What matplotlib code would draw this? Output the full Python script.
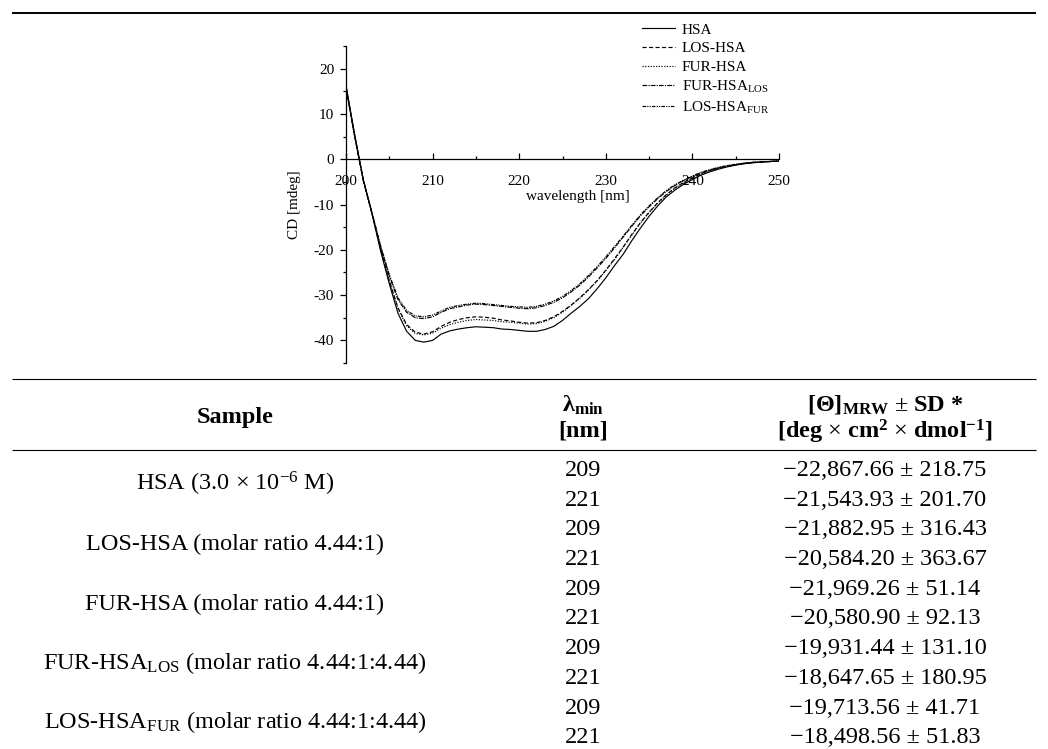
import matplotlib
matplotlib.use('Agg')
import matplotlib.pyplot as plt
from matplotlib.ticker import MultipleLocator
from matplotlib.lines import Line2D
import numpy as np

plt.rcParams['font.family'] = ['Liberation Serif', 'DejaVu Serif']
plt.rcParams['mathtext.fontset'] = 'custom'
plt.rcParams['mathtext.rm'] = 'Liberation Serif'
plt.rcParams['mathtext.it'] = 'Liberation Serif:italic'
plt.rcParams['mathtext.bf'] = 'Liberation Serif:bold'
plt.rcParams['axes.unicode_minus'] = False

W, H, DPI = 1048, 749, 100

# ── data: CD spectra (mdeg) at 1 nm steps ────────────────────────────────
wavelength = np.arange(200, 251)

cd_hsa = [16.3, 5.4, -4.5, -12.0, -20.3, -27.5, -34.0, -38.0, -40.0, -40.4,
          -40.0, -38.6, -37.9, -37.5, -37.2, -37.0, -37.1, -37.2, -37.5, -37.6,
          -37.8, -38.0, -38.0, -37.6, -36.9, -35.6, -34.0, -32.5, -30.8, -28.6,
          -26.2, -23.5, -21.0, -18.0, -15.2, -12.6, -10.3, -8.3, -6.8, -5.5,
          -4.5, -3.5, -2.8, -2.2, -1.7, -1.3, -1.0, -0.8, -0.6, -0.5, -0.4]

cd_los_hsa = [16.0, 5.2, -4.6, -12.0, -19.8, -26.8, -32.8, -36.5, -38.2, -38.6,
              -38.1, -36.9, -36.0, -35.4, -35.0, -34.8, -34.9, -35.1, -35.5, -35.7,
              -36.0, -36.2, -36.1, -35.6, -34.8, -33.6, -32.2, -30.6, -28.8, -26.8,
              -24.5, -22.0, -19.4, -16.6, -14.0, -11.7, -9.6, -7.8, -6.3, -5.1,
              -4.1, -3.2, -2.5, -2.0, -1.6, -1.2, -0.9, -0.7, -0.6, -0.5, -0.4]

cd_fur_hsa = [16.1, 5.3, -4.6, -12.0, -19.9, -27.0, -33.0, -36.8, -38.5, -38.8,
              -38.4, -37.3, -36.5, -36.0, -35.6, -35.4, -35.5, -35.6, -35.9, -36.0,
              -36.2, -36.4, -36.3, -35.8, -35.0, -33.8, -32.3, -30.7, -28.9, -26.9,
              -24.6, -22.2, -19.5, -16.8, -14.1, -11.8, -9.7, -7.9, -6.4, -5.2,
              -4.2, -3.3, -2.6, -2.0, -1.6, -1.2, -0.9, -0.7, -0.6, -0.5, -0.4]

cd_fur_hsa_los = [15.8, 5.0, -4.8, -11.9, -19.3, -25.8, -31.0, -33.8, -35.0, -35.2,
                  -34.8, -33.8, -33.0, -32.6, -32.2, -32.0, -32.1, -32.3, -32.5, -32.7,
                  -32.9, -33.0, -32.8, -32.3, -31.6, -30.6, -29.3, -27.8, -26.0, -24.0,
                  -21.9, -19.6, -17.2, -14.8, -12.5, -10.5, -8.7, -7.1, -5.8, -4.7,
                  -3.8, -3.0, -2.4, -1.9, -1.5, -1.2, -0.9, -0.7, -0.6, -0.5, -0.4]

cd_los_hsa_fur = [15.9, 5.1, -4.7, -11.8, -19.1, -25.5, -30.6, -33.4, -34.6, -34.8,
                  -34.4, -33.5, -32.7, -32.3, -32.0, -31.8, -31.9, -32.1, -32.3, -32.5,
                  -32.6, -32.7, -32.5, -32.0, -31.3, -30.3, -29.0, -27.5, -25.7, -23.7,
                  -21.6, -19.3, -17.0, -14.6, -12.3, -10.3, -8.5, -6.9, -5.6, -4.6,
                  -3.7, -2.9, -2.3, -1.8, -1.4, -1.1, -0.9, -0.7, -0.6, -0.5, -0.4]

series_labels = ['HSA', 'LOS-HSA', 'FUR-HSA',
                 r'FUR-HSA$_{\mathrm{LOS}}$', r'LOS-HSA$_{\mathrm{FUR}}$']

# ── data: table ──────────────────────────────────────────────────────────
sample_names = [r'HSA (3.0 $\times$ 10$^{-6}$ M)',
                'LOS-HSA (molar ratio 4.44:1)',
                'FUR-HSA (molar ratio 4.44:1)',
                r'FUR-HSA$_{\mathrm{LOS}}$ (molar ratio 4.44:1:4.44)',
                r'LOS-HSA$_{\mathrm{FUR}}$ (molar ratio 4.44:1:4.44)']
lambda_min = [209, 221]
theta_mean = [-22867.66, -21543.93, -21882.95, -20584.20, -21969.26,
              -20580.90, -19931.44, -18647.65, -19713.56, -18498.56]
theta_sd = [218.75, 201.70, 316.43, 363.67, 51.14,
            92.13, 131.10, 180.95, 41.71, 51.83]

# ── figure ───────────────────────────────────────────────────────────────
fig = plt.figure(figsize=(W / DPI, H / DPI), dpi=DPI)


def fx(x):
    return x / W


def fy(y):
    return 1 - y / H


def rule(y, lw):
    fig.add_artist(Line2D([fx(12), fx(1036)], [fy(y), fy(y)],
                          color='black', lw=lw, solid_capstyle='butt'))


TFS = 17.5  # table font size


def tx(x, y, s, fs=TFS, fw='normal', ha='center'):
    fig.text(fx(x), fy(y), s, fontsize=fs, fontweight=fw,
             ha=ha, va='baseline', color='black')


# axes: x 200->346px, 250->779px ; y 25->46px, -45->363px
ax = fig.add_axes([fx(346), fy(363), (779 - 346) / W, (363 - 46) / H])

styles = ['-', (0, (3.5, 2)), (0, (1, 1.3)), (0, (4, 1, 1, 1)),
          (0, (3, 1, 1, 1, 1, 1))]
series = [cd_hsa, cd_los_hsa, cd_fur_hsa, cd_fur_hsa_los, cd_los_hsa_fur]
for vals, ls, lab in zip(series, styles, series_labels):
    ax.plot(wavelength, vals, color='black', lw=0.85, ls=ls, label=lab)

ax.set_xlim(200, 250)
ax.set_ylim(-45, 25)
ax.spines['top'].set_visible(False)
ax.spines['right'].set_visible(False)
ax.spines['bottom'].set_position(('data', 0))
ax.spines['left'].set_linewidth(0.9)
ax.spines['bottom'].set_linewidth(0.9)

ax.xaxis.set_major_locator(MultipleLocator(10))
ax.xaxis.set_minor_locator(MultipleLocator(5))
ax.yaxis.set_major_locator(MultipleLocator(10))
ax.yaxis.set_minor_locator(MultipleLocator(5))
ax.set_yticks([-40, -30, -20, -10, 0, 10, 20])
ax.tick_params(axis='x', which='both', direction='in', pad=11.5, labelsize=11)
ax.tick_params(axis='x', which='major', length=4, width=0.9)
ax.tick_params(axis='x', which='minor', length=2.5, width=0.9)
ax.tick_params(axis='y', which='both', direction='out', pad=4.5, labelsize=11)
ax.tick_params(axis='y', which='major', length=4, width=0.9)
ax.tick_params(axis='y', which='minor', length=2.5, width=0.9)

ax.set_xlabel('wavelength [nm]', fontsize=11, va='center')
ax.xaxis.set_label_coords(0.536, 0.524)
ax.set_ylabel('CD [mdeg]', fontsize=11, va='center')
ax.yaxis.set_label_coords(-0.12, 0.5)

ax.legend(loc='upper left', bbox_to_anchor=(fx(642), fy(23)),
          bbox_transform=fig.transFigure, frameon=False, fontsize=11,
          handlelength=2.15, handletextpad=0.46, labelspacing=0.32,
          borderpad=0, borderaxespad=0)

# ── table ────────────────────────────────────────────────────────────────
rule(12.5, 1.4)
rule(379, 0.8)
rule(450, 0.8)

COL_SAMPLE, COL_LAMBDA, COL_THETA = 235, 583, 885

tx(COL_SAMPLE, 423, 'Sample', fw='bold')
tx(COL_LAMBDA, 412, r'$\mathbf{\lambda_{min}}$', fw='bold')
tx(COL_LAMBDA, 437, '[nm]', fw='bold')
tx(COL_THETA, 410, r'$\mathbf{[\Theta]_{MRW}}$ $\pm$ SD *', fw='bold')
tx(COL_THETA, 438,
   r'[deg $\times$ cm$^{\mathbf{2}}$ $\times$ dmol$^{\mathbf{-1}}$]', fw='bold')

ROW0, ROWSTEP = 476, 29.7
for i, name in enumerate(sample_names):
    tx(COL_SAMPLE, ROW0 + (2 * i + 0.5) * ROWSTEP, name)
for k, (m, sd) in enumerate(zip(theta_mean, theta_sd)):
    y = ROW0 + k * ROWSTEP
    tx(COL_LAMBDA, y, str(lambda_min[k % 2]))
    s = ('\u2212' if m < 0 else '') + f'{abs(m):,.2f} \u00b1 {sd:.2f}'
    tx(COL_THETA, y, s)

fig.savefig('out.png', dpi=DPI, facecolor='white')
